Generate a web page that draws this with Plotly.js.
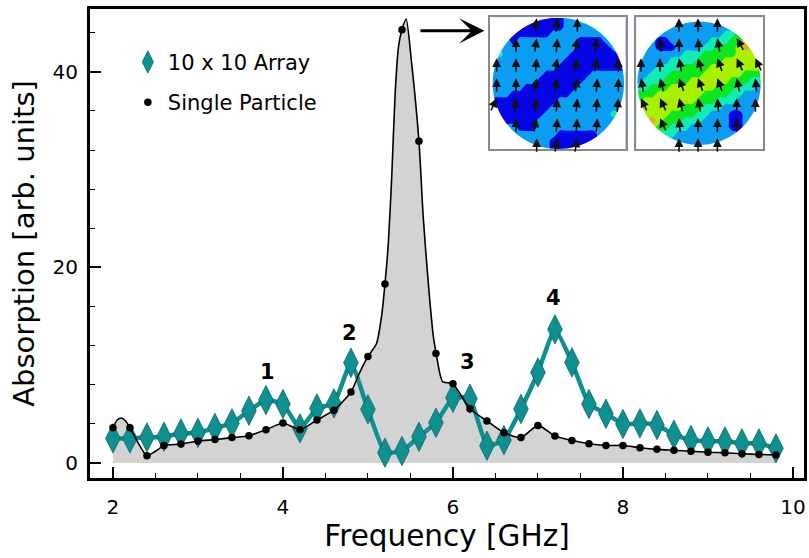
<!DOCTYPE html>
<html><head><meta charset="utf-8">
<script src="https://cdn.plot.ly/plotly-3.0.1.min.js"></script>
<style>html,body{margin:0;padding:0;background:#fff}</style></head>
<body><div id="chart" style="width:809px;height:558px"></div>
<script>
const frequency=[2,2.2,2.4,2.6,2.8,3,3.2,3.4,3.6,3.8,4,4.2,4.4,4.6,4.8,5,5.2,5.4,5.6,5.8,6,6.2,6.4,6.6,6.8,7,7.2,7.4,7.6,7.8,8,8.2,8.4,8.6,8.8,9,9.2,9.4,9.6,9.8];
const singleParticle=[3.6,3.6,0.75,1.8,1.94,2.25,2.4,2.6,2.8,3.4,4.1,3.4,4.4,5.4,7.26,10.9,18.3,44.3,32.9,11.2,8.1,5.55,4.3,3.1,2.6,3.85,2.76,2.3,1.97,1.8,1.8,1.57,1.4,1.3,1.2,1.1,1.05,0.95,0.88,0.82];
const arrayValues=[2.52,2.52,2.62,2.69,3.03,3.1,3.6,4.06,5.35,6.44,6.03,3.54,5.59,6.1,10.26,5.49,1.06,1.23,2.69,4.12,6.68,6.58,1.77,2.35,5.52,9.27,13.67,10.29,6.03,5.04,3.99,4.06,3.89,2.9,2.35,2.22,2.22,2.01,2.01,1.5];
const curveX=[2,2.05,2.1,2.15,2.2,2.3,2.4,2.5,2.6,2.8,3,3.2,3.4,3.6,3.8,4,4.2,4.4,4.6,4.8,4.9,5,5.1,5.16,5.2,5.24,5.28,5.32,5.36,5.4,5.45,5.51,5.6,5.65,5.71,5.77,5.8,5.85,5.88,6,6.2,6.4,6.6,6.8,7,7.2,7.4,7.6,7.8,8,8.2,8.4,8.6,8.8,9,9.2,9.4,9.6,9.8];
const curveY=[3.6,4.4,4.6,4.3,3.6,2,0.75,1.2,1.8,1.94,2.25,2.4,2.6,2.8,3.4,4.1,3.4,4.4,5.4,7.26,9.2,10.9,12.2,15,18.3,22.5,29.3,37.8,42.6,44.3,45.4,41.2,32.9,25.2,18.4,12.9,11.3,9,8.3,8.1,5.55,4.3,3.1,2.6,3.85,2.76,2.3,1.97,1.8,1.8,1.57,1.4,1.3,1.2,1.1,1.05,0.95,0.88,0.82];
const peakLabels=[["1",3.82,9.3],["2",4.78,13.3],["3",6.17,10.3],["4",7.18,16.9]];
const leftMapX=[36,60,80,100,120,140,160,180,200,220,240,260,280,300,320,340,360,380,400,436];
const rightMapX=[470,497,517,537,557,577,597,617,637,657,677,697,717,737,757,777,797,817,837,846];
const mapY=[38,67,87,107,127,147,167,187,207,227,247,267,287,307,327,347,367,387,407,432];
const leftMap=["11110000000112211111","11110000000111111111","11100000011111111111","11101111111110000111","11111111111110000011","12111111111100000001","11111111111000000000","11111111110000000000","11111111000000011111","11111110000000111111","11111000000001111111","11100000000011111111","00000000001111111111","00000000011111111111","00000000111111111121","10000001111111111111","11110001111111111111","11111111110000001111","11111111100000001111","11111111100000001111"];
const rightMap=["11111111111111111111","11111111111111122222","11111111111112233333","11100111111222334333","11100011112233345444","11111112223333344444","11111222233334444444","11122223333444444444","11222333334444443333","12223333444444333222","22333444444433322211","33344444443333221111","34444444433322211111","44444443332221111111","44444333322111001111","44543332221111001111","44433222111111001111","33322211111111111111","22221111111111111111","11111111111111111111"];
const mapColors=["#0505e6","#0a9df2","#10ecb4","#0ce61e","#a8f000","#f4a324"];
const leftArrowX=[50,108,170,232,292,352,415];
const rightArrowX=[483,540,597,654,712,770,826];
const arrowTipY=[40,100,160,220,280,340,400];
const leftAngles=[[null,null,8,5,0,null,null],[null,0,8,5,10,10,null],[0,0,5,10,10,12,0],[0,0,12,10,8,5,0],[25,5,8,5,5,5,5],[null,0,12,5,5,5,null],[null,null,0,10,10,null,null]];
const rightAngles=[[null,null,0,0,0,null,null],[null,-5,0,-5,-10,-30,null],[0,0,-10,-15,-20,-25,-25],[-10,-15,-20,-20,-20,-12,-5],[-25,-25,-15,-10,-5,0,0],[null,-25,-5,0,0,0,null],[null,null,0,0,0,null,null]];
const teal="#0f9090";

function parseMap(rows){return rows.map(r=>r.split("").map(Number));}
const scale=mapColors.map((c,i)=>[i/5,c]);
function mapTrace(x,z,xa,ya){return {type:"contour",x:x,y:mapY,z:parseMap(z),xaxis:xa,yaxis:ya,zmin:0,zmax:5,autocontour:false,
  contours:{start:0.5,end:4.5,size:1,coloring:"fill",showlines:false},line:{width:0},colorscale:scale,showscale:false,showlegend:false,hoverinfo:"skip"};}

const traces=[
 {x:curveX,y:curveY,mode:"none",fill:"tozeroy",fillcolor:"#d3d3d3",line:{shape:"spline",smoothing:0.6},showlegend:false},
 {x:frequency,y:arrayValues,mode:"lines",line:{color:teal,width:4.5,shape:"spline",smoothing:0.4},showlegend:false},
 {x:frequency,y:arrayValues,mode:"markers",name:"10 x 10 Array",legendgroup:"a",marker:{symbol:"diamond-tall",size:21,color:teal,line:{color:"#0a5c5c",width:0.7}}},
 {x:curveX,y:curveY,mode:"lines",line:{color:"#000",width:1.6,shape:"spline",smoothing:0.6},showlegend:false},
 {x:frequency,y:singleParticle,mode:"markers",name:"Single Particle",legendgroup:"b",marker:{symbol:"circle",size:7.5,color:"#000"}},
 mapTrace(leftMapX,leftMap,"x2","y2"),
 mapTrace(rightMapX,rightMap,"x3","y3")
];

const annotations=peakLabels.map(p=>({x:p[1],y:p[2],text:p[0],showarrow:false,font:{family:"DejaVu Sans",size:21,color:"#000",weight:"bold"}}));
annotations.push({x:6.37,y:44.2,ax:5.6,ay:44.2,axref:"x",ayref:"y",xref:"x",yref:"y",text:"",showarrow:true,arrowhead:3,arrowsize:1.4,arrowwidth:3,arrowcolor:"#000"});
function addArrows(cols,angles,xa,ya){angles.forEach((row,i)=>row.forEach((a,j)=>{if(a===null)return;
  const r=a*Math.PI/180;
  annotations.push({x:cols[j],y:arrowTipY[i],xref:xa,yref:ya,ax:-15*Math.sin(r),ay:15*Math.cos(r),text:"",showarrow:true,arrowhead:2,arrowsize:1.1,arrowwidth:1.6,arrowcolor:"#111"});}));}
addArrows(leftArrowX,leftAngles,"x2","y2");
addArrows(rightArrowX,rightAngles,"x3","y3");

function maskPath(x0,x1,y0,y1,cx,cy,r){
  let p="M"+x0+","+y0+" L"+x1+","+y0+" L"+x1+","+y1+" L"+x0+","+y1+" Z ";
  for(let i=0;i<96;i++){const t=i/96*2*Math.PI;p+=(i?"L":"M")+(cx+r*Math.cos(t)).toFixed(1)+","+(cy+r*Math.sin(t)).toFixed(1)+" ";}
  return p+"Z";
}
const W=809,H=558,L=90,R=804,T=9,B=478;
const pw=R-L,ph=B-T;
function dx(a,b){return [(a-L)/pw,(b-L)/pw];}
function dy(a,b){return [(B-b)/ph,(B-a)/ph];}
const insetAxis={showgrid:false,zeroline:false,showticklabels:false,ticks:"",showline:true,mirror:true,linecolor:"#8a8a8a",linewidth:1.5};
const fnt="DejaVu Sans";
const layout={width:W,height:H,margin:{l:L,r:W-R,t:T,b:H-B,pad:0},paper_bgcolor:"#fff",plot_bgcolor:"#fff",font:{family:fnt,color:"#000"},
 xaxis:{range:[1.73,10.13],showgrid:false,zeroline:false,showline:true,mirror:true,linecolor:"#000",linewidth:3,ticks:"inside",ticklen:11,tickwidth:2,tickcolor:"#000",dtick:2,tick0:2,
   minor:{dtick:0.5,ticks:"inside",ticklen:5,tickwidth:1,tickcolor:"#000"},tickfont:{size:20,family:fnt},ticklabelstandoff:9,title:{text:"Frequency [GHz]",font:{size:29.5,family:fnt},standoff:8}},
 yaxis:{range:[-1.53,46.43],showgrid:false,zeroline:false,showline:true,mirror:true,linecolor:"#000",linewidth:3,ticks:"inside",ticklen:11,tickwidth:2,tickcolor:"#000",tickvals:[0,20,40],
   minor:{dtick:4,tick0:0,ticks:"inside",ticklen:5,tickwidth:1,tickcolor:"#000"},tickfont:{size:20,family:fnt},ticklabelstandoff:5,title:{text:"Absorption [arb. units]",font:{size:29,family:fnt},standoff:10}},
 xaxis2:Object.assign({},insetAxis,{domain:dx(490,625.7),range:[30,437],anchor:"y2"}),
 yaxis2:Object.assign({},insetAxis,{domain:dy(17.3,149.3),range:[433,37],anchor:"x2"}),
 xaxis3:Object.assign({},insetAxis,{domain:dx(635.7,762.7),range:[467,848],anchor:"y3"}),
 yaxis3:Object.assign({},insetAxis,{domain:dy(17.3,149.3),range:[433,37],anchor:"x3"}),
 legend:{x:0.053,y:0.93,xanchor:"left",yanchor:"top",bgcolor:"rgba(0,0,0,0)",borderwidth:0,font:{size:21,family:fnt},traceorder:"grouped",tracegroupgap:10,itemwidth:30},
 annotations:annotations,
 shapes:[
  {type:"path",layer:"above",xref:"x2",yref:"y2",path:maskPath(32,435,38,432,235,235,197),fillcolor:"#fff",line:{width:0}},
  {type:"path",layer:"above",xref:"x3",yref:"y3",path:maskPath(469,846,38,432,657,235,185),fillcolor:"#fff",line:{width:0}}
 ]
};
Plotly.newPlot("chart",traces,layout,{displayModeBar:false,responsive:false});
</script></body></html>
